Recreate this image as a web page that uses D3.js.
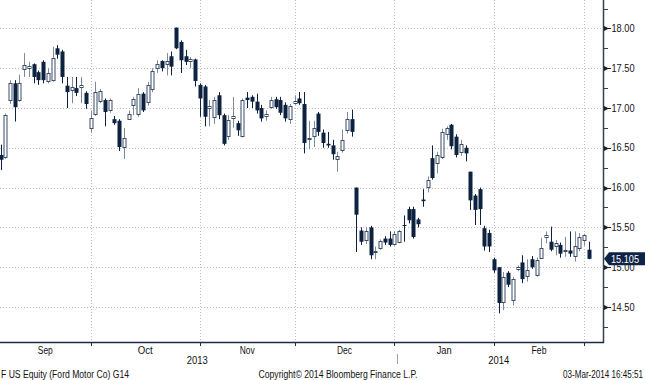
<!DOCTYPE html>
<html>
<head>
<meta charset="utf-8">
<script src="https://cdn.jsdelivr.net/npm/d3@7"></script>
<style>
  html, body { margin: 0; padding: 0; background: #ffffff; }
  svg { display: block; }
  text { font-family: "Liberation Sans", Arial, sans-serif; }
</style>
</head>
<body>
<svg id="chart" width="645" height="380"></svg>
<script>
// ---------------- DATA ----------------
const dates = [
  "2013-09-03","2013-09-04","2013-09-05","2013-09-06","2013-09-09","2013-09-10","2013-09-11","2013-09-12","2013-09-13","2013-09-16",
  "2013-09-17","2013-09-18","2013-09-19","2013-09-20","2013-09-23","2013-09-24","2013-09-25","2013-09-26","2013-09-27","2013-09-30",
  "2013-10-01","2013-10-02","2013-10-03","2013-10-04","2013-10-07","2013-10-08","2013-10-09","2013-10-10","2013-10-11","2013-10-14",
  "2013-10-15","2013-10-16","2013-10-17","2013-10-18","2013-10-21","2013-10-22","2013-10-23","2013-10-24","2013-10-25","2013-10-28",
  "2013-10-29","2013-10-30","2013-10-31",
  "2013-11-01","2013-11-04","2013-11-05","2013-11-06","2013-11-07","2013-11-08","2013-11-11","2013-11-12","2013-11-13","2013-11-14",
  "2013-11-15","2013-11-18","2013-11-19","2013-11-20","2013-11-21","2013-11-22","2013-11-25","2013-11-26","2013-11-27","2013-11-29",
  "2013-12-02","2013-12-03","2013-12-04","2013-12-05","2013-12-06","2013-12-09","2013-12-10","2013-12-11","2013-12-12","2013-12-13",
  "2013-12-16","2013-12-17","2013-12-18","2013-12-19","2013-12-20","2013-12-23","2013-12-24","2013-12-26","2013-12-27","2013-12-30",
  "2013-12-31",
  "2014-01-02","2014-01-03","2014-01-06","2014-01-07","2014-01-08","2014-01-09","2014-01-10","2014-01-13","2014-01-14","2014-01-15",
  "2014-01-16","2014-01-17","2014-01-21","2014-01-22","2014-01-23","2014-01-24","2014-01-27","2014-01-28","2014-01-29","2014-01-30",
  "2014-01-31",
  "2014-02-03","2014-02-04","2014-02-05","2014-02-06","2014-02-07","2014-02-10","2014-02-11","2014-02-12","2014-02-13","2014-02-14",
  "2014-02-18","2014-02-19","2014-02-20","2014-02-21","2014-02-24","2014-02-25","2014-02-26","2014-02-27","2014-02-28",
  "2014-03-03"
];

const open = [
  16.41,16.38,17.10,17.31,17.10,17.49,17.51,17.55,17.45,17.58,17.34,17.35,17.75,17.71,17.28,17.23,17.25,17.26,17.19,16.76,
  16.92,17.08,17.10,16.97,16.86,16.84,16.51,16.87,17.03,16.93,17.18,17.08,17.23,17.50,17.59,17.55,17.65,18.01,17.83,17.65,17.58,17.61,17.29,
  17.27,16.99,16.89,17.16,16.91,16.65,16.87,16.81,16.65,17.13,17.14,17.08,17.00,16.89,17.01,17.11,17.10,17.04,16.86,17.07,
  17.12,17.05,16.61,16.65,16.93,16.69,16.55,16.53,16.36,16.47,16.72,16.86,16.00,15.46,15.34,15.50,15.19,15.24,15.36,15.36,15.29,
  15.31,15.53,15.73,15.73,15.60,15.85,16.00,16.37,16.31,16.38,16.68,16.79,16.64,16.45,16.50,16.20,15.90,15.98,15.49,15.43,15.10,
  15.00,14.57,14.93,14.59,14.98,15.06,14.90,15.10,14.90,15.12,15.38,15.32,15.26,15.28,15.20,15.21,15.14,15.24,15.34,
  15.22
];
const high = [
  16.54,16.93,17.35,17.35,17.42,17.69,17.58,17.56,17.47,17.60,17.50,17.77,17.79,17.73,17.39,17.39,17.39,17.39,17.21,16.97,
  17.33,17.24,17.12,17.12,16.90,16.86,16.75,16.97,17.14,17.25,17.20,17.33,17.50,17.60,17.60,17.69,17.71,18.01,17.85,17.73,17.64,17.62,17.31,
  17.29,17.10,17.14,17.20,16.93,16.91,17.14,16.84,17.12,17.20,17.16,17.18,17.04,16.97,17.14,17.14,17.14,17.07,17.05,17.16,
  17.20,17.20,16.84,16.84,16.95,16.73,16.70,16.60,16.45,16.73,16.95,16.98,16.00,15.50,15.50,15.52,15.26,15.35,15.39,15.45,15.45,
  15.47,15.65,15.76,15.76,15.62,15.98,16.14,16.53,16.45,16.74,16.77,16.80,16.67,16.60,16.53,16.20,15.92,16.00,15.52,15.47,15.12,
  15.00,14.94,14.95,14.88,15.02,15.15,15.10,15.14,15.12,15.37,15.45,15.51,15.34,15.31,15.38,15.45,15.45,15.43,15.42,
  15.32
];
const low = [
  16.22,16.36,17.05,16.83,17.08,17.39,17.39,17.31,17.29,17.31,17.31,17.33,17.62,17.31,17.00,17.06,17.15,17.06,16.99,16.69,
  16.90,17.06,16.77,16.94,16.79,16.46,16.36,16.85,16.91,16.89,16.95,17.03,17.20,17.44,17.46,17.41,17.41,17.74,17.44,17.54,17.50,17.27,16.89,
  16.77,16.77,16.80,16.86,16.53,16.60,16.75,16.65,16.63,17.00,17.00,16.93,16.83,16.84,16.99,16.99,16.91,16.83,16.80,17.04,
  17.04,16.43,16.48,16.51,16.65,16.50,16.50,16.35,16.20,16.44,16.68,16.64,15.19,15.28,15.29,15.10,15.10,15.22,15.28,15.26,15.27,
  15.30,15.32,15.55,15.36,15.50,15.76,15.94,16.10,16.18,16.36,16.60,16.48,16.38,16.40,16.33,15.72,15.53,15.53,15.21,15.19,14.93,
  14.42,14.46,14.75,14.52,14.95,14.80,14.82,14.98,14.88,15.11,15.30,15.20,15.15,15.12,15.13,15.13,15.07,15.20,15.27,
  15.10
];
const close = [
  16.35,16.91,17.31,17.01,17.31,17.54,17.53,17.39,17.35,17.35,17.44,17.63,17.67,17.39,17.20,17.27,17.19,17.29,17.05,16.88,
  17.20,17.21,16.95,17.10,16.81,16.51,16.62,16.93,17.11,17.18,16.97,17.29,17.46,17.55,17.50,17.59,17.52,17.75,17.60,17.58,17.61,17.34,17.12,
  16.89,17.02,17.10,16.91,16.55,16.85,16.90,16.72,17.10,17.10,17.08,16.97,16.87,16.92,17.10,17.01,16.94,16.87,17.02,17.09,
  17.06,16.56,16.62,16.75,16.70,16.56,16.53,16.42,16.40,16.60,16.86,16.70,15.66,15.32,15.45,15.15,15.20,15.33,15.31,15.28,15.42,
  15.45,15.52,15.59,15.38,15.54,15.83,16.09,16.12,16.41,16.70,16.75,16.52,16.41,16.55,16.43,15.84,15.72,15.73,15.26,15.26,14.96,
  14.55,14.88,14.78,14.85,15.00,14.85,14.97,15.00,15.09,15.24,15.40,15.22,15.30,15.17,15.21,15.17,15.27,15.38,15.40,
  15.105
];

const yTicks = [14.5, 15.0, 15.5, 16.0, 16.5, 17.0, 17.5, 18.0];
const yMinorTicks = [14.25, 14.75, 15.25, 15.75, 16.25, 16.75, 17.25, 17.75, 18.25];
const monthLabels = ["Sep", "Oct", "Nov", "Dec", "Jan", "Feb"];
const yearLabels = ["2013", "2014"];
const lastPrice = "15.105";
const footerLeft = "F US Equity (Ford Motor Co) G14";
const footerCenter = "Copyright\u00A9 2014 Bloomberg Finance L.P.";
const footerRight = "03-Mar-2014 16:45:51";

// ---------------- LAYOUT ----------------
const W = 645, H = 380;
const plotRight = 603, plotBottom = 342;
const step = 4.745;
const firstCenter = 0.5;

const svg = d3.select("#chart");
svg.append("rect").attr("width", W).attr("height", H).attr("fill", "#ffffff");

const x = d3.scaleBand()
  .domain(dates)
  .range([firstCenter - step / 2, firstCenter - step / 2 + step * dates.length])
  .padding(0);
const cx = d => x(d) + x.bandwidth() / 2;

const y = d3.scaleLinear().domain([14.5, 18.0]).range([307.0, 28.4]);

svg.append("clipPath").attr("id", "plotclip")
  .append("rect").attr("x", 0).attr("y", 0).attr("width", plotRight).attr("height", plotBottom);

// month-end dates (last trading day of each month)
const monthEnds = dates.filter((d, i) => i < dates.length - 1 && dates[i + 1].slice(0, 7) !== d.slice(0, 7));

const grid = svg.append("g").attr("clip-path", "url(#plotclip)");
grid.selectAll("line.hg").data(yTicks).join("line")
  .attr("x1", 0).attr("x2", plotRight)
  .attr("y1", d => Math.round(y(d)) + 0.5).attr("y2", d => Math.round(y(d)) + 0.5)
  .attr("stroke", "#bdbdbd").attr("stroke-width", 1).attr("stroke-dasharray", "1,2");
grid.selectAll("line.vg").data(monthEnds).join("line")
  .attr("x1", d => Math.round(cx(d)) + 0.5).attr("x2", d => Math.round(cx(d)) + 0.5)
  .attr("y1", 0).attr("y2", plotBottom)
  .attr("stroke", "#bdbdbd").attr("stroke-width", 1).attr("stroke-dasharray", "1,2");

// ---------------- CANDLES ----------------
const idx = d3.range(dates.length);
const navy = "#0c2240";
const candles = svg.append("g").attr("clip-path", "url(#plotclip)");
const isUp = i => close[i] > open[i];

candles.selectAll("line.wick").data(idx).join("line")
  .attr("x1", i => Math.round(cx(dates[i])) + 0.5)
  .attr("x2", i => Math.round(cx(dates[i])) + 0.5)
  .attr("y1", i => y(high[i]))
  .attr("y2", i => y(low[i]))
  .attr("stroke", i => isUp(i) ? "#7d8a9c" : navy)
  .attr("stroke-width", 1);

candles.selectAll("rect.body").data(idx).join("rect")
  .attr("x", i => Math.round(cx(dates[i])) - 1.5 + (isUp(i) ? 0.5 : 0))
  .attr("width", i => isUp(i) ? 3 : 4)
  .attr("y", i => {
    const top = y(Math.max(open[i], close[i]));
    return isUp(i) ? Math.round(top) + 0.5 : top;
  })
  .attr("height", i => {
    const h = Math.abs(y(open[i]) - y(close[i]));
    return Math.max(isUp(i) ? Math.round(h) : h, 1);
  })
  .attr("fill", i => isUp(i) ? "#ffffff" : navy)
  .attr("stroke", i => isUp(i) ? "#3b4d68" : "none")
  .attr("stroke-width", 1);

// ---------------- AXES ----------------
svg.append("line")
  .attr("x1", plotRight + 0.5).attr("x2", plotRight + 0.5)
  .attr("y1", 0).attr("y2", plotBottom + 1)
  .attr("stroke", "#3a3f48").attr("stroke-width", 1.5);

svg.selectAll("line.minor").data(yMinorTicks).join("line")
  .attr("x1", plotRight + 1).attr("x2", plotRight + 5)
  .attr("y1", d => Math.round(y(d)) + 0.5).attr("y2", d => Math.round(y(d)) + 0.5)
  .attr("stroke", "#3a3f48").attr("stroke-width", 1);

svg.selectAll("path.major").data(yTicks).join("path")
  .attr("d", d => {
    const yy = Math.round(y(d)) + 0.5;
    return `M${plotRight + 1},${yy - 2.5}L${plotRight + 6},${yy}L${plotRight + 1},${yy + 2.5}Z`;
  })
  .attr("fill", "#1c2330");
svg.selectAll("line.majorl").data(yTicks).join("line")
  .attr("x1", plotRight + 1).attr("x2", plotRight + 8)
  .attr("y1", d => Math.round(y(d)) + 0.5).attr("y2", d => Math.round(y(d)) + 0.5)
  .attr("stroke", "#1c2330").attr("stroke-width", 1);

svg.selectAll("text.ylab").data(yTicks).join("text")
  .attr("x", plotRight + 8.5)
  .attr("y", d => y(d))
  .attr("dy", "0.35em")
  .attr("font-size", "10.5px")
  .attr("fill", "#111")
  .attr("textLength", 23).attr("lengthAdjust", "spacingAndGlyphs")
  .text(d => d3.format(".2f")(d));

// last price marker
const lp = y(close[close.length - 1]);
svg.append("path")
  .attr("d", `M${plotRight + 1},${lp}L${plotRight + 6},${lp - 6.5}L${W},${lp - 6.5}L${W},${lp + 6.5}L${plotRight + 6},${lp + 6.5}Z`)
  .attr("fill", "#0e2346");
svg.append("text")
  .attr("x", plotRight + 8).attr("y", lp).attr("dy", "0.36em")
  .attr("font-size", "10.5px").attr("fill", "#ffffff")
  .attr("textLength", 28).attr("lengthAdjust", "spacingAndGlyphs")
  .text(lastPrice);

// bottom axis
svg.append("line")
  .attr("x1", 0).attr("x2", plotRight + 1)
  .attr("y1", plotBottom + 0.5).attr("y2", plotBottom + 0.5)
  .attr("stroke", "#1a2a48").attr("stroke-width", 1.5);

svg.selectAll("line.xt").data(monthEnds).join("line")
  .attr("x1", d => Math.round(cx(d)) + 0.5).attr("x2", d => Math.round(cx(d)) + 0.5)
  .attr("y1", plotBottom).attr("y2", plotBottom + 4)
  .attr("stroke", "#1a2a48").attr("stroke-width", 1);

const bounds = [0].concat(monthEnds.map(cx));
svg.selectAll("text.mon").data(monthLabels).join("text")
  .attr("x", (d, i) => (bounds[i] + bounds[i + 1]) / 2)
  .attr("y", 354)
  .attr("text-anchor", "middle")
  .attr("font-size", "10px")
  .attr("fill", "#111")
  .attr("textLength", 15).attr("lengthAdjust", "spacingAndGlyphs")
  .text(d => d);

const decEnd = cx("2013-12-31");
const janStart = cx("2014-01-02");
const yearSep = (decEnd + janStart) / 2;
const yearCenters = [(0 + decEnd) / 2, (decEnd + plotRight) / 2];
svg.selectAll("text.yr").data(yearLabels).join("text")
  .attr("x", (d, i) => yearCenters[i])
  .attr("y", 363.5)
  .attr("text-anchor", "middle")
  .attr("font-size", "10px")
  .attr("fill", "#111")
  .attr("textLength", 21).attr("lengthAdjust", "spacingAndGlyphs")
  .text(d => d);
svg.append("line")
  .attr("x1", Math.round(yearSep) + 0.5).attr("x2", Math.round(yearSep) + 0.5)
  .attr("y1", 354).attr("y2", 364)
  .attr("stroke", "#a0a0a0").attr("stroke-width", 1);

// footer
svg.append("text").attr("x", 1).attr("y", 378).attr("font-size", "10px").attr("fill", "#111")
  .attr("textLength", 128).attr("lengthAdjust", "spacingAndGlyphs").text(footerLeft);
svg.append("text").attr("x", 338).attr("y", 378).attr("text-anchor", "middle").attr("font-size", "10px").attr("fill", "#111")
  .attr("textLength", 159).attr("lengthAdjust", "spacingAndGlyphs").text(footerCenter);
svg.append("text").attr("x", 643).attr("y", 378).attr("text-anchor", "end").attr("font-size", "10px").attr("fill", "#111")
  .attr("textLength", 80).attr("lengthAdjust", "spacingAndGlyphs").text(footerRight);
</script>
</body>
</html>
